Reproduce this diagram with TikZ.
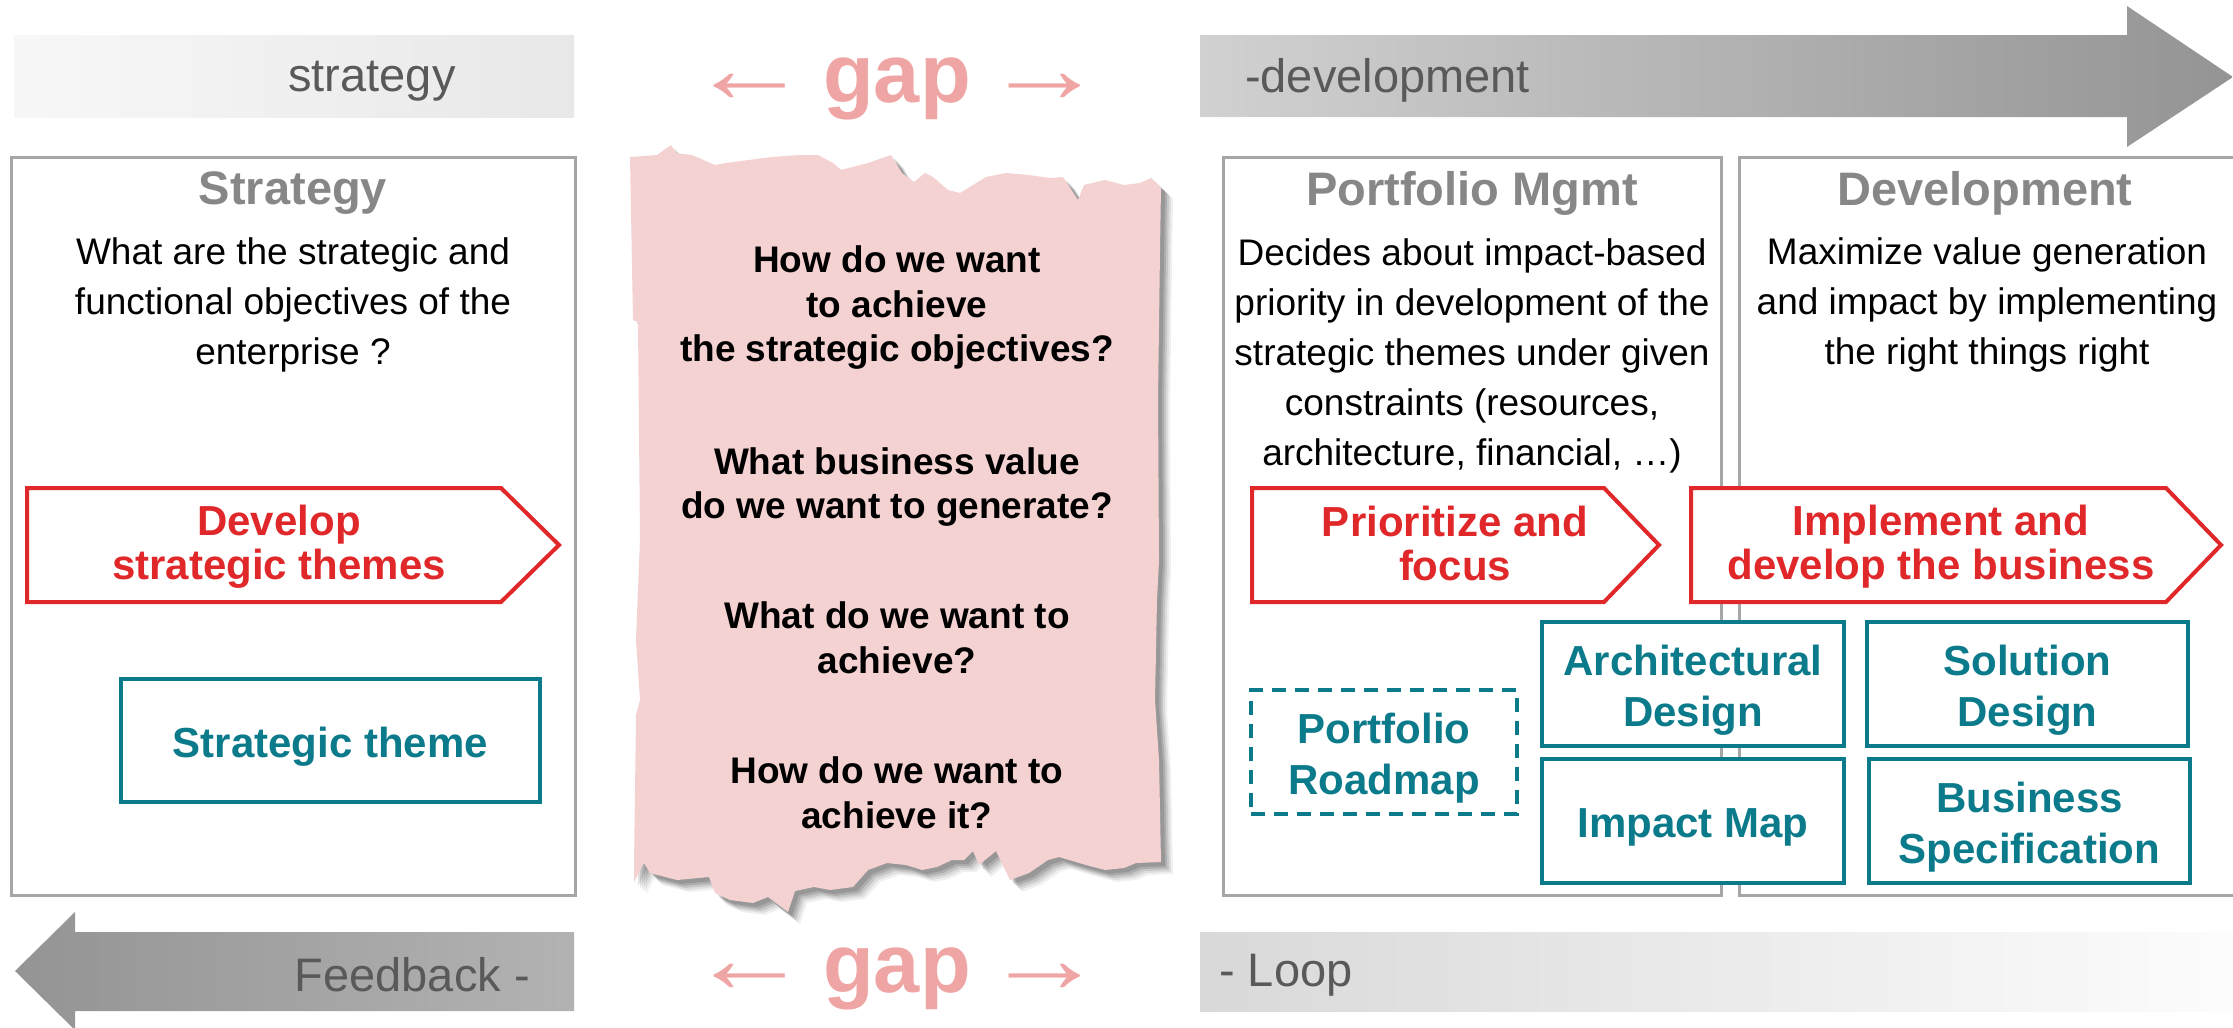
\documentclass[tikz,border=0pt]{standalone}
\usepackage{fontspec}
\setmainfont{Liberation Sans}
\definecolor{boxgray}{HTML}{A6A6A6}
\definecolor{titlegray}{HTML}{878787}
\definecolor{bargray}{HTML}{595959}
\definecolor{chevred}{HTML}{E0282A}
\definecolor{tealbox}{HTML}{0B7A8A}
\definecolor{paperpink}{HTML}{F5D2D2}
\definecolor{gappink}{HTML}{F0A5A5}
\tikzset{
  graybox/.style={draw=boxgray, line width=3pt},
  chevron/.style={draw=chevred, line width=4pt, fill=white, line join=miter},
  artbox/.style={draw=tealbox, line width=4pt, fill=white, inner sep=0pt},
  arttext/.style={text=tealbox, inner sep=0pt,
    font=\bfseries\fontsize{42}{51}\selectfont, align=center},
  boxtitle/.style={text=titlegray, inner sep=0pt, anchor=base, font=\bfseries\fontsize{47}{56}\selectfont},
  bodytext/.style={inner sep=0pt, align=center, font=\fontsize{37}{50}\selectfont},
  chevtext/.style={inner sep=0pt, text=chevred, align=center, font=\bfseries\fontsize{42}{44}\selectfont},
  question/.style={inner sep=0pt, align=center, font=\bfseries\fontsize{37}{44.5}\selectfont},
  barlabel/.style={inner sep=0pt, text=bargray, font=\fontsize{47}{56}\selectfont},
  gaplabel/.style={inner sep=0pt, anchor=base, text=gappink, font=\fontsize{83}{90}\selectfont}
}
\newcommand{\gaparrowL}{\scalebox{1.45}[1.2]{←}}
\newcommand{\gaparrowR}{\scalebox{1.45}[1.2]{→}}
\def\paperpath{(630,157) -- (657,155) -- (671,145) -- (676,153) -- (692,155) -- (715,165) -- (726,163)
 -- (772,157) -- (799,155) -- (818,155) -- (833,163) -- (841,170) -- (868,163) -- (891,155)
 -- (902,173) -- (914,182) -- (925,173) -- (933,177) -- (948,190) -- (960,193) -- (986,177)
 -- (1006,173) -- (1029,175) -- (1050,178) -- (1063,177) -- (1078,200) -- (1084,185) -- (1105,180)
 -- (1124,185) -- (1140,183) -- (1151,178) -- (1161,187) -- (1160,250) -- (1158,400) -- (1159,560)
 -- (1157,600) -- (1155,700) -- (1159,760) -- (1161,862)
 -- (1136,863) -- (1124,868) -- (1105,870) -- (1086,865) -- (1059,857) -- (1048,860) -- (1029,873)
 -- (1010,880) -- (996,851) -- (979,865) -- (973,851) -- (964,860) -- (952,860) -- (937,867)
 -- (922,870) -- (906,865) -- (887,863) -- (868,870) -- (853,887) -- (830,890) -- (814,887)
 -- (795,891) -- (788,912) -- (768,897) -- (753,903) -- (730,900) -- (715,893) -- (709,877)
 -- (677,880) -- (650,873) -- (644,863) -- (634,882) -- (634,865) -- (636,715) -- (640,700)
 -- (636,640) -- (640,540) -- (638,322) -- (633,320) -- cycle}
\begin{document}
\begin{tikzpicture}[x=1pt,y=-1pt]
\useasboundingbox (0,0) rectangle (2233,1028);
\fill[white] (0,0) rectangle (2233,1028);

% ---- top band ----
\shade[left color=white!97!black, right color=white!91!black] (14,35) rectangle (574,117);
\node[barlabel, anchor=base] (lblstrategy) at (372,91) {strategy};
\shade[left color=white!82!black, right color=white!58!black]
  (1200,35) -- (2127,35) -- (2127,6) -- (2233,77) -- (2127,147) -- (2127,117) -- (1200,117) -- cycle;
\node[barlabel, anchor=base west] (lbldev) at (1245,92) {-development};
\node[gaplabel] (gaptop) at (897,102) {\gaparrowL\,{\bfseries gap}\,\gaparrowR};

% ---- bottom band ----
\shade[left color=white!58!black, right color=white!70!black]
  (574,932) -- (75,932) -- (75,912) -- (15,971) -- (75,1030) -- (75,1011) -- (574,1011) -- cycle;
\node[barlabel, anchor=base east] (lblfeed) at (530,991) {Feedback -};
\shade[left color=white!85!black, right color=white!99!black] (1200,932) rectangle (2233,1011);
\node[barlabel, anchor=base west] (lblloop) at (1219,986) {- Loop};
\node[gaplabel] (gapbot) at (897,992) {\gaparrowL\,{\bfseries gap}\,\gaparrowR};

% ---- gray frames ----
\draw[graybox] (11,157) rectangle (575,895);
\draw[graybox] (1223,157) rectangle (1721,895);
\draw[graybox] (1739,157) rectangle (2240,895);

\node[boxtitle] (tstrat) at (293,204) {Strategy};
\node[boxtitle] (tport) at (1472,205) {Portfolio Mgmt};
\node[boxtitle] (tdev) at (1985,205) {Development};

\node[bodytext] (bstrat) at (293,305) {What are the strategic and\\functional objectives of the\\enterprise ?};
\node[bodytext] (bport) at (1472,356) {Decides about impact-based\\priority in development of the\\strategic themes under given\\constraints (resources,\\architecture, financial, …)};
\node[bodytext] (bdev) at (1987,305) {Maximize value generation\\and impact by implementing\\the right things right};

% ---- chevrons ----
\draw[chevron] (27,488) -- (501,488) -- (559,545) -- (501,602) -- (27,602) -- cycle;
\node[chevtext] (cdev) at (279,547) {Develop\\strategic themes};
\draw[chevron] (1252,488) -- (1604,488) -- (1659,545) -- (1604,602) -- (1252,602) -- cycle;
\node[chevtext] (cprio) at (1455,543) {Prioritize and\\focus};
\draw[chevron] (1691,488) -- (2166,488) -- (2221,545) -- (2166,602) -- (1691,602) -- cycle;
\node[chevtext] (cimpl) at (1941,547) {Implement and\\develop the business};

% ---- artefacts ----
\node[artbox, minimum width=419, minimum height=123] (theme) at (330.5,740.5) {};
\node[arttext] (themetext) at ([yshift=-6pt]theme.center) {Strategic theme};
\node[artbox, dashed, dash pattern=on 14pt off 9pt, minimum width=266, minimum height=124] (roadmap) at (1384,752) {};
\node[arttext] (roadmaptext) at ([yshift=-6pt]roadmap.center) {Portfolio\\Roadmap};
\node[artbox, minimum width=302, minimum height=124] (arch) at (1693,684) {};
\node[arttext] (archtext) at ([yshift=-6pt]arch.center) {Architectural\\Design};
\node[artbox, minimum width=302, minimum height=124] (impact) at (1693,821) {};
\node[arttext] (impacttext) at ([yshift=-6pt]impact.center) {Impact Map};
\node[artbox, minimum width=321, minimum height=124] (sol) at (2027.5,684) {};
\node[arttext] (soltext) at ([yshift=-6pt]sol.center) {Solution\\Design};
\node[artbox, minimum width=321, minimum height=124] (spec) at (2029.5,821) {};
\node[arttext] (spectext) at ([yshift=-6pt]spec.center) {Business\\Specification};

% ---- torn paper ----
\foreach \o/\a in {12/0.06, 10/0.08, 8/0.10, 6/0.12, 4/0.12}{
  \fill[black, opacity=\a, shift={(\o,\o)}] \paperpath;
}
\fill[paperpink] \paperpath;
\node[question] (q1) at (897,308) {How do we want\\to achieve\\the strategic objectives?};
\node[question] (q2) at (897,487) {What business value\\do we want to generate?};
\node[question] (q3) at (897,638) {What do we want to\\achieve?};
\node[question] (q4) at (897,793) {How do we want to\\achieve it?};
\end{tikzpicture}
\end{document}
